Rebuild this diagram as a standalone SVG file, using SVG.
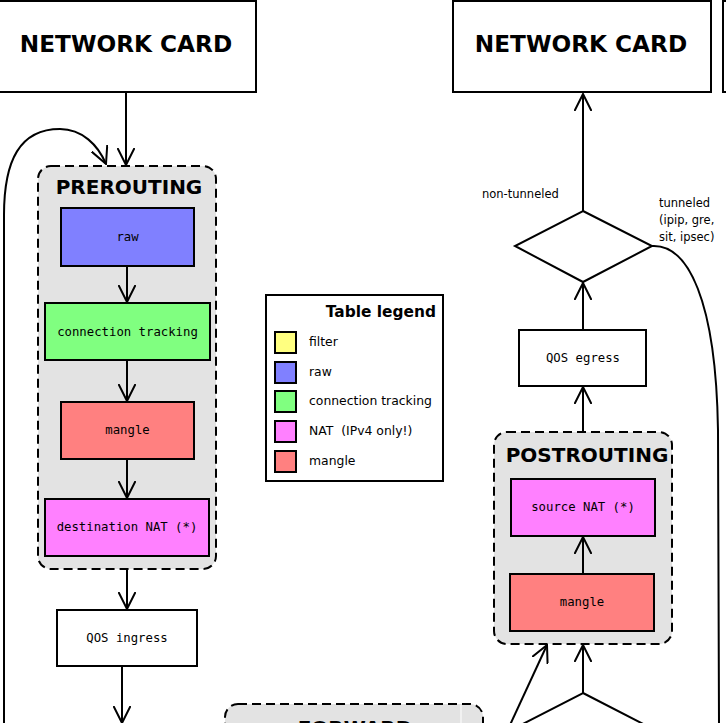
<svg xmlns="http://www.w3.org/2000/svg" width="726" height="723" viewBox="0 0 726 723">
<defs>
<marker id="vee" markerUnits="userSpaceOnUse" viewBox="0 0 18 18" refX="17" refY="9" markerWidth="18" markerHeight="18" orient="auto">
<path d="M0,0.5 L17,9 L0,17.5" fill="none" stroke="#000" stroke-width="2"/>
</marker>
</defs>
<style>
.box{stroke:#000;stroke-width:2}
.cl{fill:#e3e3e3;stroke:#000;stroke-width:2;stroke-dasharray:9,5}
.big{font-family:"DejaVu Sans",sans-serif;font-weight:bold;font-size:23.2px;text-anchor:middle}
.ct{font-family:"DejaVu Sans",sans-serif;font-weight:bold;font-size:20px;text-anchor:middle}
.mono{font-family:"DejaVu Sans Mono",monospace;font-size:12.3px;text-anchor:middle}
.lbl{font-family:"DejaVu Sans",sans-serif;font-size:11.5px}
.lg{font-family:"DejaVu Sans",sans-serif;font-size:12.4px}
.e{fill:none;stroke:#000;stroke-width:2}
</style>
<rect width="726" height="723" fill="#fff"/>

<g id="netcard-in">
<rect class="box" x="-10" y="1" width="266" height="91" fill="#fff"/>
<text class="big" x="126" y="52">NETWORK CARD</text>
</g>
<g id="netcard-out">
<rect class="box" x="453" y="1" width="258" height="91" fill="#fff"/>
<text class="big" x="581" y="52">NETWORK CARD</text>
</g>
<g id="netcard-other">
<rect class="box" x="723" y="1" width="60" height="91" fill="#fff"/>
</g>

<g id="prerouting">
<rect class="cl" x="38" y="166" width="178" height="403" rx="13"/>
<text class="ct" x="129" y="194">PREROUTING</text>
</g>
<g id="pre-raw">
<rect class="box" x="61" y="208" width="133" height="58" fill="#8080ff"/>
<text class="mono" x="127.5" y="241">raw</text>
</g>
<g id="pre-conntrack">
<rect class="box" x="45" y="303" width="165" height="57" fill="#80ff80"/>
<text class="mono" x="127.5" y="336">connection tracking</text>
</g>
<g id="pre-mangle">
<rect class="box" x="61" y="402" width="133" height="57" fill="#ff8080"/>
<text class="mono" x="127.5" y="434">mangle</text>
</g>
<g id="pre-dnat">
<rect class="box" x="45" y="499" width="164" height="57" fill="#ff80ff"/>
<text class="mono" x="127" y="531">destination NAT (*)</text>
</g>
<g id="qos-ingress">
<rect class="box" x="57" y="610" width="140" height="56" fill="#fff"/>
<text class="mono" x="127" y="642">QOS ingress</text>
</g>

<g id="forward">
<rect class="cl" x="225" y="704" width="258" height="100" rx="13"/>
<line x1="461" y1="705" x2="461" y2="723" stroke="#fff" stroke-width="1"/>
<text class="ct" x="355" y="735">FORWARD</text>
</g>

<g id="legend">
<rect class="box" x="266" y="295" width="177" height="186" fill="#fff"/>
<text x="436" y="317" text-anchor="end" style="font-family:'DejaVu Sans',sans-serif;font-weight:bold;font-size:15.4px">Table legend</text>
<rect class="box" x="275" y="332" width="21" height="21" fill="#ffff80"/>
<text class="lg" x="309" y="346">filter</text>
<rect class="box" x="275" y="362" width="21" height="21" fill="#8080ff"/>
<text class="lg" x="309" y="376">raw</text>
<rect class="box" x="275" y="391" width="21" height="21" fill="#80ff80"/>
<text class="lg" x="309" y="405">connection tracking</text>
<rect class="box" x="275" y="421" width="21" height="21" fill="#ff80ff"/>
<text class="lg" x="309" y="435" xml:space="preserve">NAT  (IPv4 only!)</text>
<rect class="box" x="275" y="451" width="21" height="21" fill="#ff8080"/>
<text class="lg" x="309" y="465">mangle</text>
</g>

<g id="tunnel-decision">
<polygon class="box" points="583,211 652,246 583,282 515,246" fill="#fff"/>
</g>
<g id="qos-egress">
<rect class="box" x="519" y="330" width="127" height="56" fill="#fff"/>
<text class="mono" x="583" y="362">QOS egress</text>
</g>
<g id="postrouting">
<rect class="cl" x="494" y="432" width="178" height="212" rx="13"/>
<text class="ct" x="587" y="462">POSTROUTING</text>
</g>
<g id="post-snat">
<rect class="box" x="511" y="479" width="144" height="57" fill="#ff80ff"/>
<text class="mono" x="583" y="511">source NAT (*)</text>
</g>
<g id="post-mangle">
<rect class="box" x="510" y="574" width="144" height="57" fill="#ff8080"/>
<text class="mono" x="582" y="606">mangle</text>
</g>
<g id="route-decision">
<polygon class="box" points="583,693 651,728 583,764 515,728" fill="#fff"/>
</g>

<g id="connectors">
<line class="e" x1="126" y1="92" x2="126" y2="165" marker-end="url(#vee)"/>
<path class="e" d="M4,723 L4,215 C4,160 20,129 60,129 C82,129 98,145 106,164" marker-end="url(#vee)"/>
<line class="e" x1="127" y1="266" x2="127" y2="302" marker-end="url(#vee)"/>
<line class="e" x1="127" y1="360" x2="127" y2="401" marker-end="url(#vee)"/>
<line class="e" x1="127" y1="459" x2="127" y2="498" marker-end="url(#vee)"/>
<line class="e" x1="127" y1="569" x2="127" y2="609" marker-end="url(#vee)"/>
<line class="e" x1="122" y1="666" x2="122" y2="723" marker-end="url(#vee)"/>
<line class="e" x1="583" y1="211" x2="583" y2="94" marker-end="url(#vee)"/>
<path class="e" d="M652,246 C688,244 716,300 718,430 L719,723"/>
<line class="e" x1="583" y1="330" x2="583" y2="283" marker-end="url(#vee)"/>
<line class="e" x1="583" y1="432" x2="583" y2="387" marker-end="url(#vee)"/>
<line class="e" x1="583" y1="574" x2="583" y2="537" marker-end="url(#vee)"/>
<line class="e" x1="583" y1="693" x2="583" y2="645" marker-end="url(#vee)"/>
<line class="e" x1="510" y1="725" x2="547" y2="645" marker-end="url(#vee)"/>
<text class="lbl" x="482" y="198">non-tunneled</text>
<text class="lbl" x="659" y="207">tunneled</text>
<text class="lbl" x="659" y="224">(ipip, gre,</text>
<text class="lbl" x="659" y="241">sit, ipsec)</text>
</g>
</svg>
